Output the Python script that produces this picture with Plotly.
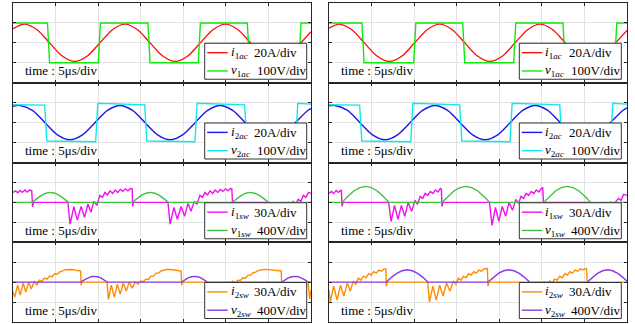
import plotly.graph_objects as go

# ---------------- data (time in us, amplitude in divisions) ----------------
# Row 1 left
v1ac_L_t = [0, 4.05, 4.30, 10.02, 10.27, 15.85, 16.10, 21.76, 22.01, 27.52, 27.77, 33.58, 33.83, 35]
v1ac_L_v = [1, 1, -1, -1, 1, 1, -1, -1, 1, 1, -1, -1, 1, 1]
i1ac_L_t = [0, 1.35, 2.83, 4.30, 5.78, 7.25, 8.73, 10.20, 11.68, 13.15, 14.63, 16.10, 17.58, 19.05,
            20.53, 22.00, 23.48, 24.95, 26.43, 27.90, 29.38, 30.85, 32.33, 33.80, 35.0]
i1ac_L_v = [0.71, 0.94, 0.66, 0, -0.66, -0.93, -0.66, 0, 0.66, 0.94, 0.66, 0, -0.66, -0.93,
            -0.66, 0, 0.66, 0.94, 0.66, 0, -0.66, -0.93, -0.66, 0, 0.56]
# Row 1 right
v1ac_R_t = [0, 3.87, 4.12, 9.95, 10.20, 15.70, 15.95, 21.69, 21.94, 27.48, 27.73, 33.55, 33.80, 35]
v1ac_R_v = [1, 1, -1, -1, 1, 1, -1, -1, 1, 1, -1, -1, 1, 1]
i1ac_R_t = [0, 1.20, 2.68, 4.15, 5.63, 7.10, 8.58, 10.05, 11.53, 13.00, 14.48, 15.95, 17.43, 18.90,
            20.38, 21.85, 23.33, 24.80, 26.28, 27.75, 29.23, 30.70, 32.18, 33.65, 35.0]
i1ac_R_v = [0.74, 0.94, 0.66, 0, -0.66, -0.93, -0.66, 0, 0.66, 0.94, 0.66, 0, -0.66, -0.93,
            -0.66, 0, 0.66, 0.94, 0.66, 0, -0.66, -0.93, -0.66, 0, 0.62]
# Row 2 left
v2ac_L_t = [0, 3.72, 3.97, 9.71, 9.96, 15.47, 15.72, 21.37, 21.62, 27.21, 27.46, 33.20, 33.45, 35]
v2ac_L_v = [0.90, 0.88, -0.92, -0.96, 0.97, 0.89, -0.92, -0.96, 0.97, 0.89, -0.92, -0.96, 0.97, 0.93]
i2ac_L_t = [0, 0.81, 2.28, 3.75, 5.22, 6.69, 8.16, 9.63, 11.10, 12.57, 14.04, 15.51, 16.98, 18.45,
            19.92, 21.39, 22.86, 24.33, 25.80, 27.27, 28.74, 30.21, 31.68, 33.15, 34.62, 35]
i2ac_L_v = [0.82, 0.86, 0.61, 0, -0.61, -0.86, -0.61, 0, 0.61, 0.86, 0.61, 0, -0.61, -0.86,
            -0.61, 0, 0.61, 0.86, 0.61, 0, -0.61, -0.86, -0.61, 0, 0.61, 0.70]
# Row 2 right
v2ac_R_t = [0, 3.60, 3.85, 9.60, 9.85, 15.35, 15.60, 21.26, 21.51, 27.10, 27.35, 33.08, 33.33, 35]
v2ac_R_v = [0.90, 0.88, -0.92, -0.96, 0.97, 0.89, -0.92, -0.96, 0.97, 0.89, -0.92, -0.96, 0.97, 0.93]
i2ac_R_t = [0, 0.70, 2.17, 3.64, 5.11, 6.58, 8.05, 9.52, 10.99, 12.46, 13.93, 15.40, 16.87, 18.34,
            19.81, 21.28, 22.75, 24.22, 25.69, 27.16, 28.63, 30.10, 31.57, 33.04, 34.51, 35]
i2ac_R_v = [0.84, 0.86, 0.61, 0, -0.61, -0.86, -0.61, 0, 0.61, 0.86, 0.61, 0, -0.61, -0.86,
            -0.61, 0, 0.61, 0.86, 0.61, 0, -0.61, -0.86, -0.61, 0, 0.61, 0.74]
# Row 3 left
v1sw_L_t = [0, 2.27, 2.80, 3.33, 3.86, 4.39, 4.91, 5.44, 5.97, 6.50,
            14.01, 14.54, 15.07, 15.60, 16.13, 16.65, 17.18, 17.71, 18.24,
            25.76, 26.29, 26.82, 27.35, 27.88, 28.40, 28.93, 29.46, 29.99, 35]
v1sw_L_v = [0, 0, 0.19, 0.35, 0.46, 0.50, 0.46, 0.35, 0.19, 0,
            0, 0.19, 0.35, 0.46, 0.50, 0.46, 0.35, 0.19, 0,
            0, 0.19, 0.35, 0.46, 0.50, 0.46, 0.35, 0.19, 0, 0]
i1sw_L_t = [0, 0.3, 0.55, 0.85, 1.1, 1.4, 1.65, 1.95, 2.2, 2.3, 2.4, 6.45,
            6.7, 7.15, 7.55, 8.0, 8.4, 8.8, 9.15, 9.5, 9.85, 10.2, 10.5, 10.8, 11.1, 11.4, 11.7,
            12.0, 12.3, 12.6, 12.9, 13.2, 13.5, 13.8, 14.0, 14.05, 14.15, 18.2,
            18.45, 18.9, 19.3, 19.75, 20.15, 20.55, 20.9, 21.3, 21.6, 21.95, 22.25, 22.55, 22.85,
            23.15, 23.45, 23.75, 24.05, 24.35, 24.65, 24.95, 25.25, 25.55, 25.7, 25.8, 25.9, 29.95,
            30.2, 30.5, 30.8, 31.1, 31.4, 31.7, 32.0, 32.3, 32.6, 32.9, 33.2, 33.5, 33.8, 34.1,
            34.4, 34.7, 35]
i1sw_L_v = [0.5, 0.58, 0.48, 0.6, 0.5, 0.62, 0.52, 0.62, 0.58, -0.22, 0, 0,
            -1.09, -0.22, -0.89, -0.2, -0.75, -0.08, -0.5, 0.05, -0.15, 0.35, 0.25, 0.5, 0.38, 0.58, 0.45,
            0.62, 0.5, 0.65, 0.55, 0.68, 0.58, 0.7, 0.68, -0.2, 0, 0,
            -1.09, -0.25, -0.85, -0.2, -0.7, -0.05, -0.45, 0.05, -0.1, 0.35, 0.25, 0.5, 0.38,
            0.58, 0.45, 0.62, 0.5, 0.65, 0.55, 0.68, 0.58, 0.7, 0.68, -0.2, 0, 0,
            -0.15, -0.05, -0.2, -0.05, -0.2, -0.05, -0.18, 0, -0.15, 0.05, -0.1, 0.15, 0.05, 0.35,
            0.25, 0.5, 0.45]
# Row 3 right
v1sw_R_t = [0, 1.53, 2.22, 2.91, 3.60, 4.29, 4.98, 5.67, 6.36, 7.05,
            13.27, 13.97, 14.67, 15.37, 16.07, 16.77, 17.47, 18.17, 18.87,
            25.22, 25.91, 26.60, 27.29, 27.98, 28.67, 29.36, 30.05, 30.74, 35]
v1sw_R_v = [0, 0, 0.31, 0.57, 0.74, 0.80, 0.74, 0.57, 0.31, 0,
            0, 0.31, 0.57, 0.74, 0.80, 0.74, 0.57, 0.31, 0,
            0, 0.31, 0.57, 0.74, 0.80, 0.74, 0.57, 0.31, 0, 0]
i1sw_R_t = [0, 0.3, 0.55, 0.85, 1.1, 1.45, 1.53, 1.65, 7.0,
            7.3, 7.7, 8.1, 8.5, 8.9, 9.3, 9.7, 10.1, 10.4, 10.7, 11.0, 11.3, 11.6, 11.9, 12.2,
            12.5, 12.8, 13.1, 13.2, 13.27, 13.4, 18.85,
            19.15, 19.55, 19.95, 20.35, 20.75, 21.15, 21.55, 21.95, 22.25, 22.55, 22.85, 23.15,
            23.45, 23.75, 24.05, 24.35, 24.65, 24.95, 25.1, 25.22, 25.35, 30.7,
            31.0, 31.3, 31.6, 31.9, 32.2, 32.5, 32.8, 33.1, 33.4, 33.7, 34.0, 34.3, 34.6, 35]
i1sw_R_v = [0.45, 0.55, 0.45, 0.6, 0.5, 0.62, -0.2, 0, 0,
            -0.95, -0.15, -0.85, -0.15, -0.7, 0.0, -0.45, 0.1, -0.1, 0.3, 0.2, 0.45, 0.35, 0.55, 0.45,
            0.62, 0.52, 0.7, 0.65, -0.2, 0, 0,
            -1.15, -0.25, -0.95, -0.2, -0.7, 0.0, -0.4, 0.15, -0.05, 0.3, 0.2, 0.45,
            0.35, 0.55, 0.45, 0.62, 0.52, 0.7, 0.72, -0.2, 0, 0,
            -0.15, -0.05, -0.2, -0.05, -0.2, -0.02, -0.15, 0.02, -0.1, 0.05, 0.2, 0.1, 0.4, 0.35]
# Row 4 left
v2sw_L_t = [0, 7.99, 8.38, 8.76, 9.15, 9.54, 9.92, 10.31, 10.69, 11.08,
            19.81, 20.19, 20.56, 20.94, 21.32, 21.69, 22.07, 22.44, 22.82,
            31.56, 31.95, 32.34, 32.73, 33.12, 33.51, 33.90, 34.29, 34.68, 35]
v2sw_L_v = [0, 0, 0.11, 0.21, 0.27, 0.29, 0.27, 0.21, 0.11, 0,
            0, 0.11, 0.21, 0.27, 0.29, 0.27, 0.21, 0.11, 0,
            0, 0.11, 0.21, 0.27, 0.29, 0.27, 0.21, 0.11, 0, 0]
i2sw_L_t = [0, 0.2, 0.55, 0.85, 1.2, 1.5, 1.85, 2.15, 2.5, 2.8, 3.1, 3.4, 3.7, 4.0, 4.3, 4.6,
            4.9, 5.2, 5.5, 5.8, 6.1, 6.5, 6.9, 7.3, 7.7, 7.95, 8.0, 8.1, 11.05,
            11.2, 11.55, 11.9, 12.25, 12.6, 12.95, 13.3, 13.65, 14.0, 14.35, 14.7, 15.0, 15.3,
            15.6, 15.9, 16.2, 16.5, 16.8, 17.1, 17.4, 17.7, 18.05, 18.5, 18.9, 19.3, 19.75,
            19.81, 19.9, 22.8,
            23.1, 23.4, 23.7, 24.0, 24.3, 24.6, 24.9, 25.2, 25.5, 25.8, 26.1, 26.4, 26.7, 27.0,
            27.3, 27.6, 27.9, 28.2, 28.5, 28.8, 29.2, 29.8, 30.3, 30.8, 31.5, 31.56, 31.65,
            34.65, 34.85, 35]
i2sw_L_v = [-0.5, -0.75, -0.15, -0.65, -0.05, -0.5, 0.0, -0.35, 0.05, -0.15, 0.1, 0.05, 0.2,
            0.15, 0.3, 0.27, 0.42, 0.4, 0.52, 0.55, 0.62, 0.64, 0.63, 0.6, 0.57, 0.55, -0.15, 0, 0,
            -0.87, -0.15, -0.75, -0.1, -0.6, -0.05, -0.45, 0.0, -0.3, 0.0, -0.1, 0.05, 0.02,
            0.15, 0.13, 0.3, 0.3, 0.45, 0.45, 0.56, 0.6, 0.64, 0.63, 0.6, 0.58, 0.55,
            -0.15, 0, 0,
            -0.15, -0.05, -0.2, -0.05, -0.18, -0.03, -0.15, 0.0, -0.1, 0.05, -0.05, 0.1, 0.08, 0.22,
            0.2, 0.35, 0.35, 0.47, 0.5, 0.58, 0.62, 0.64, 0.62, 0.6, 0.56, -0.15, 0,
            0, -0.85, -0.4]
# Row 4 right
v2sw_R_t = [0, 6.73, 7.34, 7.96, 8.57, 9.18, 9.79, 10.41, 11.02, 11.63,
            18.67, 19.28, 19.90, 20.51, 21.12, 21.73, 22.35, 22.96, 23.57,
            30.34, 30.94, 31.53, 32.13, 32.72, 33.32, 33.91, 34.51, 35.0]
v2sw_R_v = [0, 0, 0.24, 0.44, 0.57, 0.62, 0.57, 0.44, 0.24, 0,
            0, 0.24, 0.44, 0.57, 0.62, 0.57, 0.44, 0.24, 0,
            0, 0.24, 0.44, 0.57, 0.62, 0.57, 0.44, 0.24, 0.05]
i2sw_R_t = [0, 0.15, 0.55, 0.95, 1.35, 1.75, 2.15, 2.5, 2.85, 3.15, 3.45, 3.75, 4.05, 4.35,
            4.65, 4.95, 5.25, 5.55, 5.85, 6.15, 6.45, 6.68, 6.73, 6.85, 11.6,
            11.8, 12.2, 12.6, 13.0, 13.4, 13.8, 14.2, 14.6, 14.9, 15.2, 15.5, 15.8, 16.1, 16.4,
            16.7, 17.0, 17.3, 17.6, 17.9, 18.2, 18.6, 18.67, 18.8, 23.55,
            23.8, 24.1, 24.4, 24.7, 25.0, 25.3, 25.6, 25.9, 26.2, 26.5, 26.8, 27.1, 27.4, 27.7,
            28.0, 28.3, 28.6, 28.9, 29.2, 29.5, 29.8, 30.25, 30.34, 30.45, 35]
i2sw_R_v = [-0.4, -1.0, -0.2, -0.9, -0.15, -0.7, -0.05, -0.45, 0.05, -0.1, 0.2, 0.1, 0.3, 0.22,
            0.42, 0.35, 0.52, 0.45, 0.6, 0.55, 0.66, 0.65, -0.2, 0, 0,
            -1.0, -0.2, -0.9, -0.15, -0.7, -0.05, -0.45, 0.05, -0.1, 0.2, 0.1, 0.3, 0.22, 0.42,
            0.35, 0.52, 0.45, 0.6, 0.55, 0.66, 0.68, -0.2, 0, 0,
            -0.2, -0.05, -0.22, -0.05, -0.2, 0.0, -0.15, 0.05, -0.05, 0.15, 0.1, 0.3, 0.22, 0.42,
            0.35, 0.52, 0.45, 0.6, 0.55, 0.66, 0.62, 0.68, -0.2, 0, 0]

# labels / ticks
X_TICKS = [0, 5, 10, 15, 20, 25, 30, 35]
Y_TICKS = [-2, -1, 0, 1, 2]
TIME_LABEL = "time : 5\u03bcs/div"


def sym(s, sub):
    return "<i>%s</i><sub>%s<i>%s</i></sub>" % (s, sub[0], sub[1:])


panels = [
    # (row, col, [(symbol, scale, t, v, color, shape)])
    (0, 0, [(sym("i", "1ac"), "20A/div", i1ac_L_t, i1ac_L_v, "#ff1010", "spline"),
            (sym("v", "1ac"), "100V/div", v1ac_L_t, v1ac_L_v, "#10e810", "linear")]),
    (0, 1, [(sym("i", "1ac"), "20A/div", i1ac_R_t, i1ac_R_v, "#ff1010", "spline"),
            (sym("v", "1ac"), "100V/div", v1ac_R_t, v1ac_R_v, "#10e810", "linear")]),
    (1, 0, [(sym("i", "2ac"), "20A/div", i2ac_L_t, i2ac_L_v, "#1818e8", "spline"),
            (sym("v", "2ac"), "100V/div", v2ac_L_t, v2ac_L_v, "#10e8f0", "linear")]),
    (1, 1, [(sym("i", "2ac"), "20A/div", i2ac_R_t, i2ac_R_v, "#1818e8", "spline"),
            (sym("v", "2ac"), "100V/div", v2ac_R_t, v2ac_R_v, "#10e8f0", "linear")]),
    (2, 0, [(sym("i", "1sw"), "30A/div", i1sw_L_t, i1sw_L_v, "#f010f0", "linear"),
            (sym("v", "1sw"), "400V/div", v1sw_L_t, v1sw_L_v, "#40c040", "linear")]),
    (2, 1, [(sym("i", "1sw"), "30A/div", i1sw_R_t, i1sw_R_v, "#f010f0", "linear"),
            (sym("v", "1sw"), "400V/div", v1sw_R_t, v1sw_R_v, "#40c040", "linear")]),
    (3, 0, [(sym("i", "2sw"), "30A/div", i2sw_L_t, i2sw_L_v, "#ff8c00", "linear"),
            (sym("v", "2sw"), "400V/div", v2sw_L_t, v2sw_L_v, "#8a3be0", "linear")]),
    (3, 1, [(sym("i", "2sw"), "30A/div", i2sw_R_t, i2sw_R_v, "#ff8c00", "linear"),
            (sym("v", "2sw"), "400V/div", v2sw_R_t, v2sw_R_v, "#8a3be0", "linear")]),
]

W, H = 635, 324
ML, MR, MT, MB = 13, 8, 3, 2
PW = W - ML - MR
PH = H - MT - MB
col_dom = [[0, 298 / PW], [316 / PW, 1]]
row_dom = [[0.75, 1], [0.5, 0.75], [0.25, 0.5], [0, 0.25]]
PANEL_W = 298.0
PANEL_H = PH / 4.0

FONT = "Liberation Serif, Times New Roman, DejaVu Serif, serif"
fig = go.Figure()
annotations = []
shapes = []
layout = dict(
    width=W, height=H, margin=dict(l=ML, r=MR, t=MT, b=MB, pad=0), showlegend=False,
    paper_bgcolor="white", plot_bgcolor="white", font=dict(family=FONT, size=13, color="black"),
)
for p, (r, c, series) in enumerate(panels):
    k = p + 1
    xa = "x" if k == 1 else "x%d" % k
    ya = "y" if k == 1 else "y%d" % k
    for (s, scale, t, v, color, shape) in series:
        fig.add_trace(go.Scatter(x=t, y=v, mode="lines", name=s + " " + scale, xaxis=xa, yaxis=ya,
                                 line=dict(color=color, width=1.4, shape=shape,
                                           smoothing=0.8 if shape == "spline" else None)))
    axcommon = dict(showline=True, linecolor="#262626", linewidth=1.2, mirror="ticks",
                    ticks="inside", ticklen=3, tickwidth=1, tickcolor="#262626",
                    showticklabels=False, showgrid=True, gridcolor="#e3e3e3", gridwidth=1,
                    zeroline=False, fixedrange=True)
    layout["xaxis" if k == 1 else "xaxis%d" % k] = dict(
        axcommon, domain=col_dom[c], range=[X_TICKS[0], X_TICKS[-1]], tickvals=X_TICKS,
        anchor=ya)
    layout["yaxis" if k == 1 else "yaxis%d" % k] = dict(
        axcommon, domain=row_dom[r], range=[Y_TICKS[0], Y_TICKS[-1]], tickvals=Y_TICKS,
        anchor=xa)

    # ---- legend box drawn in the panel's domain coordinates (pixel offsets) ----
    xr, yr = xa + " domain", ya + " domain"
    gap_r = 4.3 if c == 0 else 5.7
    bx1 = 1 - gap_r / PANEL_W
    bx0 = bx1 - 102 / PANEL_W
    by0 = 3.5 / PANEL_H
    by1 = by0 + 36 / PANEL_H
    shapes.append(dict(type="rect", xref=xr, yref=yr, x0=bx0, x1=bx1, y0=by0, y1=by1,
                       line=dict(color="#333333", width=1), fillcolor="white", layer="above"))
    for j, (s, scale, t, v, color, shape) in enumerate(series):
        yc = by1 - (9.4 + 18.3 * j) / PANEL_H
        shapes.append(dict(type="line", xref=xr, yref=yr, x0=bx0 + 2.5 / PANEL_W,
                           x1=bx0 + 23 / PANEL_W, y0=yc, y1=yc,
                           line=dict(color=color, width=1.4), layer="above"))
        annotations.append(dict(text=s, xref=xr, yref=yr, x=bx0 + 24 / PANEL_W, y=yc,
                                xanchor="left", yanchor="middle", showarrow=False,
                                font=dict(family=FONT, size=13, color="black")))
        annotations.append(dict(text=scale, xref=xr, yref=yr,
                                x=bx0 + (47.5 if j == 0 else 50) / PANEL_W, y=yc,
                                xanchor="left", yanchor="middle", showarrow=False,
                                font=dict(family=FONT, size=13, color="black")))
    annotations.append(dict(
        text=TIME_LABEL, xref=xr, yref=yr, x=9.5 / PANEL_W, y=12.0 / PANEL_H,
        xanchor="left", yanchor="middle", showarrow=False,
        font=dict(family=FONT, size=13, color="black")))

layout["annotations"] = annotations
layout["shapes"] = shapes
fig.update_layout(**layout)
fig.write_html("out.html", config={"displayModeBar": False},
               post_script="document.body.style.margin='0';")
